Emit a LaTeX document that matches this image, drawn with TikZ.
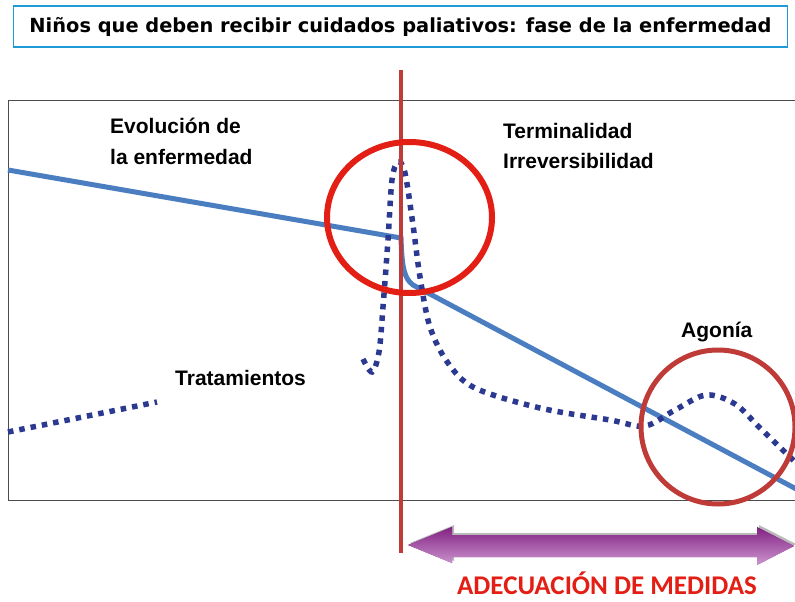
\documentclass[tikz,border=0pt]{standalone}
\usepackage{fontspec}
\setmainfont{Liberation Sans}
\newfontfamily\headfont{DejaVu Sans}
\newfontfamily\calfont{Carlito}
\definecolor{titleblue}{RGB}{30,155,215}
\definecolor{evoblue}{RGB}{74,126,193}
\definecolor{dotblue}{RGB}{43,57,144}
\definecolor{markred}{RGB}{191,59,55}
\definecolor{ringred}{RGB}{227,30,20}
\definecolor{arrowpurple}{RGB}{130,34,130}
\definecolor{arrowpink}{RGB}{205,150,208}
\tikzset{
  lbl/.style={anchor=base west, inner sep=0, font=\bfseries\fontsize{21}{25}\selectfont},
  dots/.style={dotblue, line width=5.5, dash pattern=on 5.5 off 6},
}
\begin{document}
\begin{tikzpicture}[x=1pt,y=-1pt]
\useasboundingbox (0,0) rectangle (795,602);
\clip (0,0) rectangle (795,602);

\node[draw=titleblue, line width=1.5, minimum width=774, minimum height=41,
  font=\headfont\bfseries\fontsize{19.4}{22}\selectfont] (title) at (400.5,26.5)
  {Niños que deben recibir cuidados paliativos: fase de la enfermedad};

\draw[gray!60!black, line width=1] (800,100) -- (8,100) -- (8,500) -- (800,500);

\draw[evoblue, line width=5] (8,170) -- (401,238)
  .. controls (402,268) and (404,278) .. (413,285) -- (800,491);

\draw[dots] (8,432) -- (157,402);
\draw[dots] plot[smooth, tension=0.55] coordinates {(363,359) (372,372) (379,352)
  (383,307) (388,240) (392,180) (398,162) (405,173) (413,225) (420,277)
  (430,327) (448,363) (475,388) (540,408) (610,420) (645,426) (675,410)
  (706,395) (735,404) (760,428) (795,462)};

\draw[markred, line width=4] (401,70) -- (401,553);

\draw[ringred, line width=6] (409.5,217.5) ellipse [x radius=82.5, y radius=75.5];
\draw[markred, line width=5] (718,427) ellipse [x radius=77, y radius=77];

\foreach \name/\x/\y/\txt in {evo1/110/133/Evolución de, evo2/110/164/la enfermedad,
  term/503/138/Terminalidad, irrev/503/168/Irreversibilidad,
  trat/175/385/Tratamientos, agon/681/337/Agonía}
{
  \node[lbl] (\name) at (\x,\y) {\txt};
}

\foreach \dx/\dy/\col in {2/-2/gray!55, 0/0/arrowpurple}
{
  \fill[shift={(\dx,\dy)}, \col] (408,545) -- (452,527) -- (452,535) -- (757,535)
    -- (757,527) -- (794,546) -- (757,565) -- (757,557) -- (452,557) -- (452,563) -- cycle;
}
\shade[top color=arrowpurple, bottom color=arrowpink] (408,545) -- (452,527) -- (452,535)
  -- (757,535) -- (757,527) -- (794,546) -- (757,565) -- (757,557) -- (452,557) -- (452,563) -- cycle;

\node[text=ringred, anchor=base, inner sep=0,
  font=\calfont\bfseries\fontsize{27}{30}\selectfont] (medidas)
  at (607,594) {ADECUACIÓN DE MEDIDAS};
\end{tikzpicture}
\end{document}
